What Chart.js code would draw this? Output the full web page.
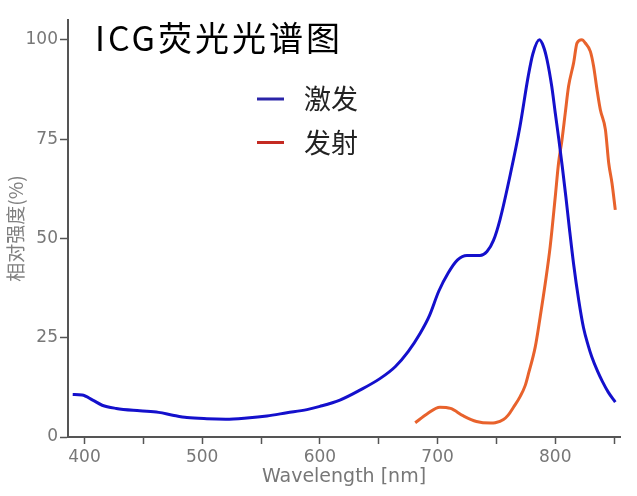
<!DOCTYPE html>
<html>
<head>
<meta charset="utf-8">
<script src="https://cdn.jsdelivr.net/npm/chart.js@4/dist/chart.umd.min.js"></script>
<style>
html,body{margin:0;padding:0;background:#fff;}
#wrap{width:637px;height:496px;position:relative;}
</style>
</head>
<body>
<div id="wrap"><canvas id="c" width="637" height="496"></canvas></div>
<script>
// ---- data ----
const chartTitle = "ICG荧光光谱图";
const seriesNames = ["激发", "发射"];
const seriesColors = ["#1410cc", "#e8622c"];
const legendColors = ["#2a24a8", "#c42a22"];

const excitationWl  = [390, 398, 407, 415, 427, 447, 463, 475, 487, 504, 520, 538, 555, 572, 589, 600, 617, 634, 651, 664, 675, 685, 693, 701, 709, 717, 725, 736, 742, 747.5, 753, 762, 770, 777, 781, 786.5, 790, 793, 797, 800, 803, 806, 809, 812, 815.6, 819.9, 824, 828, 831, 836, 840, 845, 851];
const excitationVal = [10.7, 10.6, 9.3, 8.0, 7.2, 6.6, 6.2, 5.5, 4.9, 4.6, 4.5, 4.8, 5.3, 6.1, 6.9, 7.7, 9.3, 11.8, 14.7, 17.7, 21.5, 26.0, 30.5, 36.7, 41.3, 44.6, 45.7, 45.7, 46.7, 49.5, 54.7, 66.4, 78.2, 90.8, 96.5, 100, 98.3, 95.0, 88.3, 81.6, 75.0, 68.0, 60.5, 52.5, 43.5, 34.5, 27.5, 23.0, 20.2, 16.5, 14.0, 11.3, 8.8];

const emissionWl  = [681, 691, 702, 711, 722, 733, 745, 749, 756, 760, 764.5, 770, 774.5, 777.3, 783, 787.2, 791.5, 795.7, 800, 802.8, 805.7, 808.5, 811.3, 815.6, 818.5, 822.7, 825.5, 829.8, 832.6, 835.5, 838.3, 842.6, 845.4, 848.2, 851];
const emissionVal = [3.6, 5.8, 7.5, 7.2, 5.3, 3.9, 3.5, 3.6, 4.4, 5.5, 7.5, 10.1, 13.0, 16.0, 22.7, 30.3, 38.7, 48.0, 60.5, 69.0, 74.8, 81.6, 88.3, 94.2, 99.2, 100, 99.2, 97.1, 93.3, 87.4, 82.4, 77.4, 69.0, 63.9, 57.2];

const xTicks = [400, 450, 500, 550, 600, 650, 700, 750, 800, 850];
const xLabelled = [400, 500, 600, 700, 800];
const yTicks = [0, 25, 50, 75, 100];
const xRange = [386, 855];
const yRange = [0, 105];
const xTitle = "Wavelength [nm]";
const yTitle = "相对强度(%)";

// ---- build ----
const toPts = (xs, ys) => xs.map((x, i) => ({x: x, y: ys[i]}));

const overlay = {
  id: 'overlay',
  afterDraw(chart) {
    const ctx = chart.ctx;
    ctx.save();
    // title
    ctx.fillStyle = '#000';
    ctx.font = '34px "Noto Sans CJK SC"';
    ctx.textBaseline = 'middle';
    ctx.textAlign = 'left';
    try { ctx.letterSpacing = '3px'; } catch(e) {}
    ctx.fillText(chartTitle, 95, 38);
    try { ctx.letterSpacing = '0px'; } catch(e) {}
    // legend
    chart.data.datasets.forEach((ds, i) => {
      const y = 99 + i * 43.5;
      ctx.strokeStyle = legendColors[i];
      ctx.lineWidth = 3;
      ctx.beginPath();
      ctx.moveTo(257, y);
      ctx.lineTo(284, y);
      ctx.stroke();
      ctx.fillStyle = '#222';
      ctx.font = '27px "Noto Sans CJK SC"';
      ctx.textBaseline = 'middle';
      ctx.fillText(ds.label, 304, y);
    });
    ctx.restore();
  }
};

new Chart(document.getElementById('c'), {
  type: 'line',
  data: {
    datasets: [
      {label: seriesNames[0], data: toPts(excitationWl, excitationVal), borderColor: seriesColors[0], borderWidth: 3, pointRadius: 0, cubicInterpolationMode: 'monotone', fill: false},
      {label: seriesNames[1], data: toPts(emissionWl, emissionVal), borderColor: seriesColors[1], borderWidth: 3, pointRadius: 0, cubicInterpolationMode: 'monotone', fill: false}
    ]
  },
  options: {
    responsive: false,
    animation: false,
    events: [],
    layout: {padding: {top: 20, right: 17, left: 0, bottom: 0}},
    plugins: {legend: {display: false}, tooltip: {enabled: false}, title: {display: false}},
    scales: {
      x: {
        type: 'linear',
        min: xRange[0], max: xRange[1],
        afterBuildTicks: s => { s.ticks = xTicks.map(v => ({value: v})); },
        afterFit: s => { s.height = 59; },
        ticks: {
          autoSkip: false, maxRotation: 0, padding: 3,
          color: '#777', font: {family: 'DejaVu Sans', size: 17},
          callback: v => xLabelled.includes(v) ? String(v) : ''
        },
        grid: {drawOnChartArea: false, drawTicks: true, tickLength: 7, color: '#555', tickWidth: 1.5},
        border: {display: true, color: '#555', width: 2},
        title: {display: true, text: xTitle, color: '#777', font: {family: 'DejaVu Sans', size: 19}, padding: {top: 0, bottom: 8}}
      },
      y: {
        min: yRange[0], max: yRange[1],
        afterBuildTicks: s => { s.ticks = yTicks.map(v => ({value: v})); },
        afterFit: s => { s.width = 68; },
        ticks: {
          autoSkip: false, padding: 2,
          color: '#777', font: {family: 'DejaVu Sans', size: 17}
        },
        grid: {drawOnChartArea: false, drawTicks: true, tickLength: 8, color: '#555', tickWidth: 1.5},
        border: {display: true, color: '#555', width: 2},
        title: {display: true, text: yTitle, color: '#808080', font: {family: '"Noto Sans CJK SC"', size: 19}, padding: {top: 4, bottom: 0}}
      }
    }
  },
  plugins: [overlay]
});
</script>
</body>
</html>
